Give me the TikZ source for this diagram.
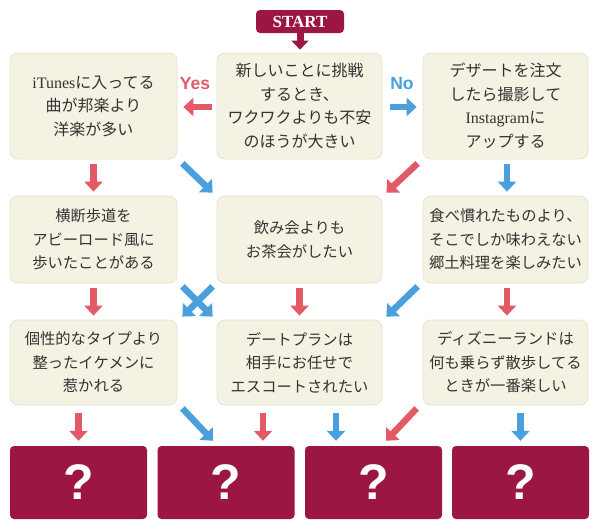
\documentclass[tikz,border=0pt]{standalone}
\usepackage{fontspec}
\setmainfont{Noto Sans CJK JP}
\newfontfamily\latserif{Liberation Serif}
\newfontfamily\latsans{Liberation Sans}
\usetikzlibrary{arrows.meta,calc}
\definecolor{boxfill}{HTML}{F4F2E2}
\definecolor{boxline}{HTML}{E6E3CC}
\definecolor{maroon}{HTML}{9B1641}
\definecolor{arrred}{HTML}{E25A66}
\definecolor{arrblue}{HTML}{4A9FDC}
\definecolor{txt}{HTML}{333333}
\begin{document}
\begin{tikzpicture}[x=1pt,y=-1pt,
  qbox/.style={draw=boxline, fill=boxfill, line width=0.8pt, rounded corners=8pt,
    inner sep=0pt, align=center, text=txt, font=\fontsize{15.3}{23.5}\selectfont},
  bigtext/.style={font=\fontsize{16}{23.5}\selectfont},
  rowA/.style={minimum height=106pt},
  rowB/.style={minimum height=87pt},
  rowC/.style={minimum height=85pt},
  colL/.style={minimum width=167pt},
  colC/.style={minimum width=165pt},
  colR/.style={minimum width=165pt},
  endbox/.style={fill=maroon, rounded corners=4pt, minimum width=137pt, minimum height=73pt,
    inner sep=0pt, text=white, font=\latsans\bfseries\fontsize{50}{50}\selectfont},
  startbox/.style={fill=maroon, rounded corners=4pt, minimum width=88pt, minimum height=23pt,
    inner sep=0pt, text=white, font=\latserif\bfseries\fontsize{17}{17}\selectfont},
  redarr/.style={draw=arrred, line width=6.5pt, -{Triangle[width=18pt,length=10pt]}},
  bluearr/.style={draw=arrblue, line width=6.5pt, -{Triangle[width=18pt,length=10pt]}},
  startarr/.style={draw=maroon, line width=7pt, -{Triangle[width=17pt,length=9pt]}},
  yeslbl/.style={text=arrred, font=\latsans\bfseries\fontsize{17.5}{17.5}\selectfont, inner sep=0pt},
  nolbl/.style={text=arrblue, font=\latsans\bfseries\fontsize{17.5}{17.5}\selectfont, inner sep=0pt}
]
\useasboundingbox (0,0) rectangle (600,530);
\fill[white] (0,0) rectangle (600,530);

% START
\node[startbox] (start) at (300,21.5) {START};

% row 1
\node[qbox,bigtext,rowA,colL] (a1) at (93.5,106) {{\latserif iTunes}に入ってる\\曲が邦楽より\\洋楽が多い};
\node[qbox,bigtext,rowA,colC] (b1) at (299.5,106) {新しいことに挑戦\\するとき、\\ワクワクよりも不安\\のほうが大きい};
\node[qbox,bigtext,rowA,colR] (c1) at (505.5,106) {デザートを注文\\したら撮影して\\{\latserif Instagram}に\\アップする};

% row 2
\node[qbox,rowB,colL] (a2) at (93.5,239.5) {横断歩道を\\アビーロード風に\\歩いたことがある};
\node[qbox,rowB,colC] (b2) at (299.5,239.5) {飲み会よりも\\お茶会がしたい};
\node[qbox,rowB,colR] (c2) at (505.5,239.5) {食べ慣れたものより、\\そこでしか味わえない\\郷土料理を楽しみたい};

% row 3
\node[qbox,rowC,colL] (a3) at (93.5,362.5) {個性的なタイプより\\整ったイケメンに\\惹かれる};
\node[qbox,rowC,colC] (b3) at (299.5,362.5) {デートプランは\\相手にお任せで\\エスコートされたい};
\node[qbox,rowC,colR] (c3) at (505.5,362.5) {ディズニーランドは\\何も乗らず散歩してる\\ときが一番楽しい};

% results
\node[endbox] (e1) at (78.5,482.5) {?};
\node[endbox] (e2) at (226,482.5) {?};
\node[endbox] (e3) at (373.5,482.5) {?};
\node[endbox] (e4) at (520.5,482.5) {?};

% labels
\node[yeslbl] (yes) at (195,84) {Yes};
\node[nolbl] (no) at (402,84) {No};

% start arrow
\draw[startarr] (start.south) -- ($(b1.north)+(0.5,-3)$);

% yes / no
\draw[redarr] ($(b1.west)+(-5,1)$) -- ($(a1.east)+(6,1)$);
\draw[bluearr] ($(b1.east)+(8,1)$) -- ($(c1.west)+(-6,1)$);

% row1 -> row2
\draw[redarr] ($(a1.south)+(0,5)$) -- ($(a2.north)+(0,-4)$);
\draw[bluearr] ($(c1.south)+(1.5,5)$) -- ($(c2.north)+(1.5,-4)$);
\draw[bluearr] ($(a1.south east)+(5,4)$) -- ($(b2.north west)+(-4,-3)$);
\draw[redarr] ($(c1.south west)+(-5,4)$) -- ($(b2.north east)+(4,-3)$);

% row2 -> row3
\draw[redarr] ($(a2.south)+(0,5)$) -- ($(a3.north)+(0,-4)$);
\draw[redarr] ($(b2.south)+(0,5)$) -- ($(b3.north)+(0,-4)$);
\draw[redarr] ($(c2.south)+(1.5,5)$) -- ($(c3.north)+(1.5,-4)$);
\draw[bluearr] ($(a2.south east)+(5,3)$) -- ($(b3.north west)+(-4,-3)$);
\draw[bluearr] ($(b2.south west)+(-4,3)$) -- ($(a3.north east)+(5,-3)$);
\draw[bluearr] ($(c2.south west)+(-5,3)$) -- ($(b3.north east)+(4,-3)$);

% row3 -> results
\draw[redarr] ($(e1.north)+(0,-33)$) -- ($(e1.north)+(0,-5)$);
\draw[bluearr] ($(a3.south east)+(5,3)$) -- ($(e2.north)+(-13,-5)$);
\draw[redarr] ($(e2.north)+(37,-33)$) -- ($(e2.north)+(37,-5)$);
\draw[bluearr] ($(e3.north)+(-37.5,-33)$) -- ($(e3.north)+(-37.5,-5)$);
\draw[redarr] ($(c3.south west)+(-6,3)$) -- ($(e3.north)+(12.5,-5)$);
\draw[bluearr] ($(e4.north)+(0,-33)$) -- ($(e4.north)+(0,-5)$);
\end{tikzpicture}
\end{document}
